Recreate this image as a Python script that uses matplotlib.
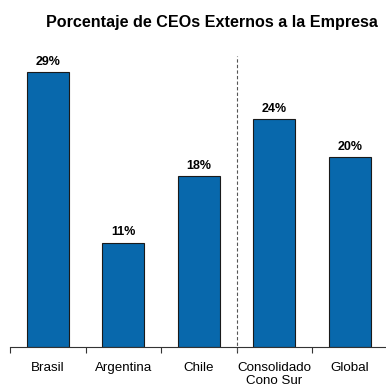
import matplotlib
matplotlib.use("Agg")
import matplotlib.pyplot as plt
import numpy as np

categories = ["Brasil", "Argentina", "Chile", "Consolidado\nCono Sur", "Global"]
values = [29, 11, 18, 24, 20]
title = "Porcentaje de CEOs Externos a la Empresa"

plt.rcParams['font.family'] = ['Liberation Sans', 'DejaVu Sans']

W, H = 386, 389
fig = plt.figure(figsize=(W/100, H/100), dpi=100)
ymax = 32
ppu = 9.48
ax_h = ymax * ppu
ax = fig.add_axes([10/W, 42/H, 377.5/W, ax_h/H])

x = np.arange(len(categories))
bars = ax.bar(x, values, width=0.56, color='#0868AC', edgecolor='#1a1a1a', linewidth=0.8)
for xi, v in zip(x, values):
    ax.text(xi, v + 0.45, f"{v}%", ha='center', va='bottom', fontsize=9, fontweight='bold')

ax.set_xlim(-0.5, len(categories) - 0.5)
ax.set_ylim(0, ymax)
ax.set_yticks([])
for s in ['top', 'right', 'left']:
    ax.spines[s].set_visible(False)
ax.spines['bottom'].set_color('#333333')
ax.spines['bottom'].set_linewidth(0.8)
ax.set_xticks(x)
ax.set_xticklabels(categories, fontsize=9.6, linespacing=1.08)
ax.tick_params(axis='x', which='major', length=0, pad=11)
ax.set_xticks(np.arange(-0.5, len(categories)), minor=True)
ax.tick_params(axis='x', which='minor', length=4, width=0.8, color='#333333', direction='out')

ax.axvline(2.5, ymin=-0.013, ymax=30.7/ymax, color='#555555', linestyle=(0, (3, 2)), linewidth=0.8, clip_on=False)

fig.text(212/W, 1 - 23/H, title, ha='center', va='center', fontsize=11.6, fontweight='bold')

fig.savefig("out.png", dpi=100)
